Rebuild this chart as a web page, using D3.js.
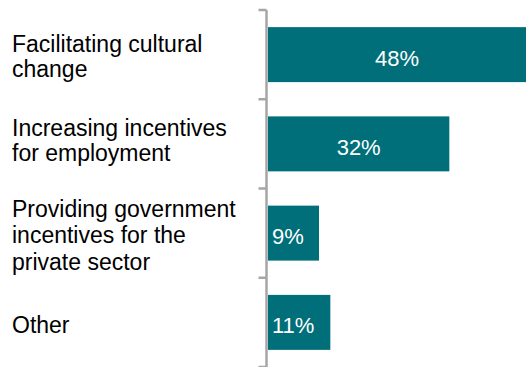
<!DOCTYPE html>
<html>
<head>
<meta charset="utf-8">
<script src="https://cdn.jsdelivr.net/npm/d3@7"></script>
<style>
  html, body { margin: 0; padding: 0; background: #fff; }
  svg { display: block; font-family: Arial, "Liberation Sans", sans-serif; }
</style>
</head>
<body>
<svg id="chart" width="526" height="367"></svg>
<script>
// Survey responses: share of respondents per option
const categories = [
  ["Facilitating cultural", "change"],
  ["Increasing incentives", "for employment"],
  ["Providing government", "incentives for the", "private sector"],
  ["Other"]
];
const values = [48, 32, 9, 11];
const valueLabels = ["48%", "32%", "9%", "11%"];

const W = 526, H = 367;
const svg = d3.select("#chart");

const keys = categories.map((c, i) => i);

const y = d3.scaleBand()
  .domain(keys)
  .range([10, 10 + 4 * 89.25])
  .paddingInner(0.384)
  .paddingOuter(0.192);

const x = d3.scaleLinear()
  .domain([0, 48])
  .range([268, 540]);

const teal = "#006F79";
const axisGrey = "#A6A6A6";

// bars
svg.append("g")
  .selectAll("rect")
  .data(values)
  .join("rect")
  .attr("x", x(0))
  .attr("y", (d, i) => y(i))
  .attr("width", d => x(d) - x(0))
  .attr("height", y.bandwidth())
  .attr("fill", teal);

// value labels: centred on wide bars, set at the base of short ones
const narrow = d => x(d) - x(0) < 80;
svg.append("g")
  .selectAll("text")
  .data(values)
  .join("text")
  .attr("x", d => narrow(d) ? x(0) + 4 : (x(0) + Math.min(x(d), W)) / 2)
  .attr("y", (d, i) => y(i) + y.bandwidth() / 2 + 11)
  .attr("text-anchor", d => narrow(d) ? "start" : "middle")
  .attr("fill", "#fff")
  .attr("font-size", 22)
  .text((d, i) => valueLabels[i]);

// category axis: vertical line with ticks on band boundaries
const axisX = 266.5;
const step = y.step();
const y0 = y.range()[0];
const axisG = svg.append("g").attr("stroke", axisGrey).attr("stroke-width", 2.5);
axisG.append("line")
  .attr("x1", axisX).attr("x2", axisX)
  .attr("y1", y0).attr("y2", y0 + step * keys.length);
axisG.selectAll("line.tick")
  .data(d3.range(keys.length + 1))
  .join("line")
  .attr("class", "tick")
  .attr("x1", axisX - 8).attr("x2", axisX)
  .attr("y1", i => y0 + i * step)
  .attr("y2", i => y0 + i * step);

// category labels, left aligned, baselines relative to band centre
const lineOffsets = [
  [-3, 22],
  [-8, 17],
  [-16, 10, 37],
  [11]
];
const labels = svg.append("g")
  .attr("font-size", 23)
  .attr("fill", "#000");
categories.forEach((lines, i) => {
  const cy = y(i) + y.bandwidth() / 2;
  const t = labels.append("text").attr("x", 12);
  lines.forEach((ln, j) => {
    t.append("tspan")
      .attr("x", 12)
      .attr("y", cy + lineOffsets[i][j])
      .text(ln);
  });
});
</script>
</body>
</html>
